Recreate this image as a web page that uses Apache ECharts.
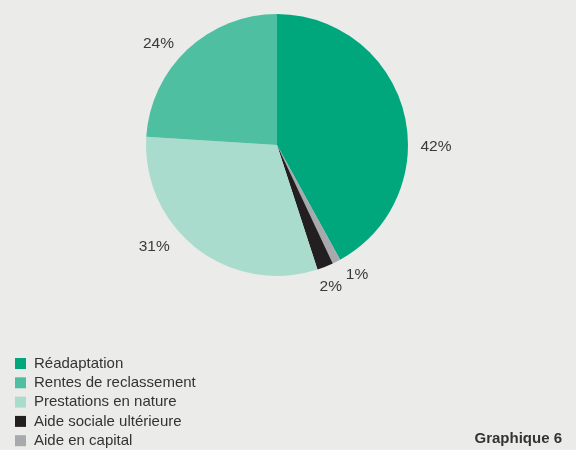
<!DOCTYPE html>
<html>
<head>
<meta charset="utf-8">
<script src="https://cdn.jsdelivr.net/npm/echarts@6/dist/echarts.min.js"></script>
<style>
  html, body { margin: 0; padding: 0; background: #ebecea; }
  #chart { width: 576px; height: 450px; }
</style>
</head>
<body>
<div id="chart"></div>
<script>
// Répartition des prestations (en %)
const categories = ['Réadaptation', 'Aide en capital', 'Aide sociale ultérieure', 'Prestations en nature', 'Rentes de reclassement'];
const values = [42, 1, 2, 31, 24];
const colors = ['#00a77d', '#a7a9ac', '#231f20', '#a9dccc', '#4fbfa1'];
const legendOrder = ['Réadaptation', 'Rentes de reclassement', 'Prestations en nature', 'Aide sociale ultérieure', 'Aide en capital'];

// Where each percentage sits around the pie: angle (deg, clockwise from top) and distance from centre
const labelAngle = [90, 148, 159, 231, 311];
const labelDist = [159, 151, 150, 158, 157];

const CX = 277, CY = 145, R = 131;
const chart = echarts.init(document.getElementById('chart'));
const font = '"Liberation Sans", Arial, sans-serif';

chart.setOption({
  backgroundColor: '#ebecea',
  animation: false,
  legend: {
    data: legendOrder,
    orient: 'vertical',
    left: 15,
    top: 356,
    height: 100,
    padding: 0,
    itemWidth: 11,
    itemHeight: 11,
    itemGap: 4.3,
    icon: 'rect',
    textStyle: { fontFamily: font, fontSize: 15, color: '#333', padding: [0, 0, 0, 3] },
    selectedMode: false
  },
  graphic: [{
    type: 'text',
    right: 14,
    top: 431,
    style: { text: 'Graphique 6', font: 'bold 15px ' + font, fill: '#333' }
  }],
  series: [{
    type: 'pie',
    center: [CX, CY],
    radius: R,
    startAngle: 90,
    clockwise: true,
    data: categories.map((c, i) => ({ name: c, value: values[i], itemStyle: { color: colors[i] } })),
    label: {
      show: true,
      position: 'outside',
      formatter: p => p.value + '%',
      fontFamily: font,
      fontSize: 15.5,
      color: '#3a3a3a'
    },
    labelLine: { show: false },
    labelLayout: p => {
      const a = labelAngle[p.dataIndex] * Math.PI / 180;
      const d = labelDist[p.dataIndex];
      return {
        x: CX + d * Math.sin(a),
        y: CY + 2 - d * Math.cos(a),
        align: 'center',
        verticalAlign: 'middle'
      };
    },
    emphasis: { disabled: true }
  }]
});
</script>
</body>
</html>
